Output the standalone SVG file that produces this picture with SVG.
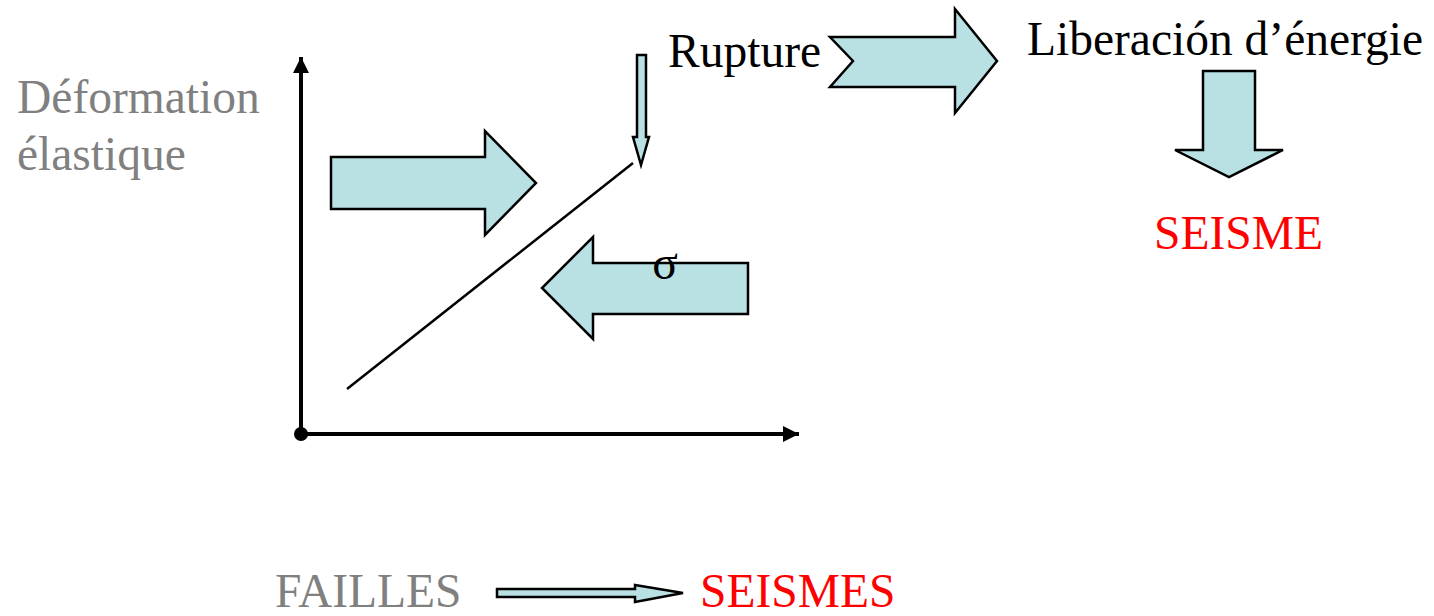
<svg xmlns="http://www.w3.org/2000/svg" width="1434" height="616" viewBox="0 0 1434 616">
<style>
.t{font-family:"Liberation Serif","Times New Roman",serif;font-size:47.5px;}
.gray{fill:#808080;}
.red{fill:#ff0000;}
.blk{fill:#000000;}
.blk-arrow{fill:#b9e0e3;stroke:#000;stroke-width:2.5;stroke-linejoin:miter;}
.axis{stroke:#000;stroke-width:4;fill:none;}
</style>
<defs>
<marker id="axhead" markerWidth="16" markerHeight="16" refX="0" refY="0" viewBox="-16 -8 16 16" orient="auto" markerUnits="userSpaceOnUse">
<path d="M-16,-8 L0,0 L-16,8 Z" fill="#000"/>
</marker>
</defs>
<rect width="1434" height="616" fill="#fff"/>

<g id="label-deformation">
<text class="t gray" x="17" y="113">Déformation</text>
<text class="t gray" x="17" y="170">élastique</text>
</g>

<g id="axes">
<line class="axis" x1="301" y1="434" x2="301" y2="57" marker-end="url(#axhead)"/>
<line class="axis" x1="301" y1="434" x2="799" y2="434" marker-end="url(#axhead)"/>
<circle cx="301" cy="434" r="7" fill="#000"/>
</g>

<g id="fault-line">
<line x1="347" y1="389" x2="633" y2="163" stroke="#000" stroke-width="2.5"/>
</g>

<g id="arrow-right-stress">
<polygon class="blk-arrow" points="331,157 485,157 485,131 536,183 485,235 485,209 331,209"/>
</g>

<g id="arrow-left-stress">
<polygon class="blk-arrow" points="748,263 593,263 593,237 542,288 593,339 593,314 748,314"/>
<text class="t blk" x="665" y="279" text-anchor="middle">σ</text>
</g>

<g id="arrow-rupture-point">
<polygon class="blk-arrow" points="637,55 646,55 646,137 649,137 641,165 633,137 637,137"/>
</g>

<g id="node-rupture">
<text class="t blk" x="668" y="67">Rupture</text>
</g>

<g id="connectors">
<polygon class="blk-arrow" points="830,37 955,37 955,9 997,61 955,113 955,87 830,87 853,61"/>
<polygon class="blk-arrow" points="1203,71 1255,71 1255,150 1283,150 1229,177 1175,150 1203,150"/>
<polygon class="blk-arrow" points="497,589 635,589 635,585 683,593 635,602 635,597 497,597"/>
</g>

<g id="node-liberacion">
<text class="t blk" x="1027" y="55">Liberación d’énergie</text>
</g>

<g id="node-seisme">
<text class="t red" x="1154" y="249">SEISME</text>
</g>

<g id="node-failles">
<text class="t gray" x="275" y="607">FAILLES</text>
</g>

<g id="node-seismes">
<text class="t red" x="700" y="607">SEISMES</text>
</g>
</svg>
